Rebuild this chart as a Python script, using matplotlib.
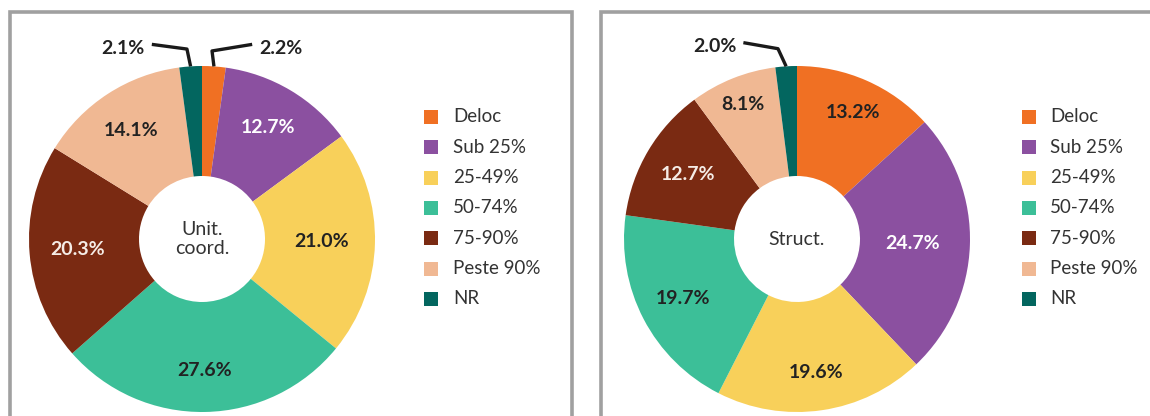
import matplotlib
matplotlib.use("Agg")
import matplotlib.pyplot as plt
from matplotlib.lines import Line2D
from matplotlib.patches import Rectangle
import numpy as np

plt.rcParams['font.family'] = ['Lato', 'DejaVu Sans']

# categories and shares (%) for the two donuts
categories = ['Deloc', 'Sub 25%', '25-49%', '50-74%', '75-90%', 'Peste 90%', 'NR']
unit_coord = [2.2, 12.7, 21.0, 27.6, 20.3, 14.1, 2.1]
struct = [13.2, 24.7, 19.6, 19.7, 12.7, 8.1, 2.0]
center_titles = ['Unit.\ncoord.', 'Struct.']

colors = ['#F07023', '#8B50A0', '#F8D05A', '#3CBF98', '#7A2A12', '#F0B893', '#03665F']
# white text on the darker slices
label_colors_left = ['#222222', 'white', '#222222', '#222222', '#f5ece6', '#222222', '#222222']
label_colors_right = ['#222222', 'white', '#222222', '#222222', '#f5ece6', '#222222', '#222222']
# radial position of each label (fraction of the outer radius)
label_r_left = [0, 0.75, 0.69, 0.76, 0.72, 0.75, 0]
label_r_right = [0.80, 0.67, 0.78, 0.74, 0.73, 0.84, 0]

W, H = 1150, 416
R_PX = 173.0
HOLE = 63.0 / R_PX
SPAN = 195.0

fig = plt.figure(figsize=(W / 100, H / 100), dpi=100)
fig.patch.set_facecolor('white')


def px_line(xs, ys, **kw):
    fig.add_artist(Line2D([x / W for x in xs], [1 - y / H for y in ys],
                          transform=fig.transFigure, **kw))


# panel frames (open at the bottom / right)
frame = dict(color='#a0a0a0', lw=2.6, solid_capstyle='butt', solid_joinstyle='miter')
px_line([9.5, 9.5, 572, 572], [420, 11.5, 11.5, 420], **frame)
px_line([601, 601, 1155], [420, 11.5, 11.5], **frame)


def donut(cx, cy, values, title, lab_r, lab_col, callouts):
    ax = fig.add_axes([(cx - SPAN) / W, 1 - (cy + SPAN) / H, 2 * SPAN / W, 2 * SPAN / H])
    wedges, _ = ax.pie(values, colors=colors, startangle=90, counterclock=False,
                       radius=1.0, wedgeprops=dict(width=1 - HOLE, linewidth=0))
    lim = SPAN / R_PX
    ax.set_xlim(-lim, lim)
    ax.set_ylim(-lim, lim)
    ax.set_aspect('equal')
    ax.axis('off')

    cum = np.cumsum([0] + list(values))
    total = cum[-1]
    for i, v in enumerate(values):
        mid = np.deg2rad(90 - 360 * (cum[i] + v / 2) / total)
        if lab_r[i] > 0:
            ax.text(lab_r[i] * np.cos(mid), lab_r[i] * np.sin(mid), f'{v:.1f}%',
                    ha='center', va='center', fontsize=14, fontweight='bold',
                    color=lab_col[i])
        elif i in callouts:
            ex, ey, tx, ty = callouts[i]
            ax0 = np.cos(mid)
            ay0 = np.sin(mid)
            side = 1 if tx > 0 else -1
            ax.plot([ax0, ex, tx - side * 0.02], [ay0, ey, ty + 0.025],
                    color='#1a1a1a', lw=2.4, solid_capstyle='butt', clip_on=False)
            ax.text(tx + side * 0.02, ty, f'{v:.1f}%', ha='left' if side > 0 else 'right',
                    va='center', fontsize=14, fontweight='bold', color='#222222')

    ax.text(0, 0, title, ha='center', va='center', fontsize=14, color='#333333',
            linespacing=1.15)
    return wedges


donut(202, 239, unit_coord, center_titles[0], label_r_left, label_colors_left,
      {0: (0.058, 1.087, 0.31, 1.10), 6: (-0.087, 1.098, -0.31, 1.10)})
donut(797, 239, struct, center_titles[1], label_r_right, label_colors_right,
      {6: (-0.11, 1.10, -0.33, 1.11)})


def legend(x0, xt, y0):
    for i, (name, c) in enumerate(zip(categories, colors)):
        y = y0 + 30.3 * i
        fig.add_artist(Rectangle((x0 / W, 1 - (y + 7) / H), 14 / W, 14 / H,
                                 transform=fig.transFigure, color=c, lw=0))
        fig.text(xt / W, 1 - y / H, name, ha='left', va='center', fontsize=13.5,
                 color='#333333')


legend(424, 453, 117)
legend(1022, 1050, 117)

fig.savefig('out.png', dpi=100, facecolor='white')
